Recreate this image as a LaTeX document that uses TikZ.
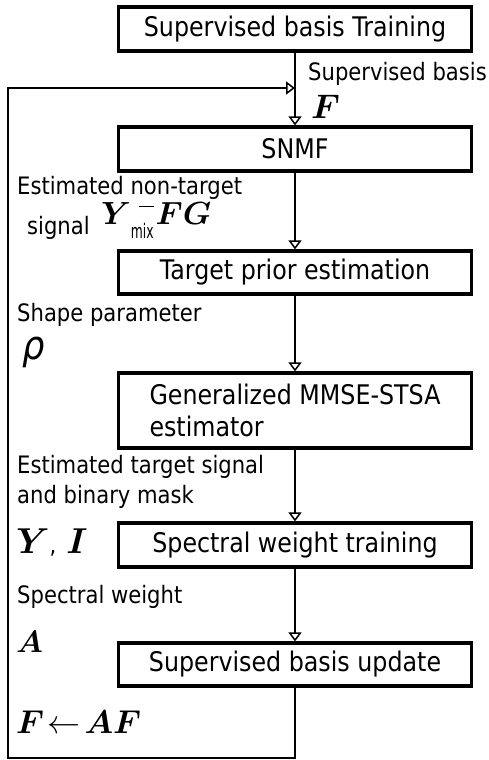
\RequirePackage{fix-cm}
\documentclass[tikz,border=0pt]{standalone}
\usepackage{amsmath,bm}
\usepackage{fontspec}
\setmainfont{DejaVu Sans}[FakeStretch=0.88]
\usetikzlibrary{arrows.meta, calc}
\tikzset{
  stepBox/.style={draw, line width=3.2pt, minimum width=353pt, minimum height=44pt,
    inner sep=0pt, font=\fontsize{27}{32}\selectfont},
  flowArrow/.style={line width=2pt,
    -{Triangle[open, length=9pt, width=13pt, line width=1.5pt]}},
  % labels beside the flow
  noteText/.style={anchor=west, inner sep=0pt, font=\fontsize{24}{28}\selectfont},
  mathNote/.style={anchor=base west, inner sep=0pt, font=\fontsize{#1}{#1}\selectfont},
  mathNote/.default=32
}

\begin{document}
\begin{tikzpicture}[x=1pt, y=-1pt]
  \useasboundingbox[fill=white] (0,0) rectangle (488,760);

  % --- PROCESSING STEPS ---
  \node[stepBox] (train) at (295,29) {Supervised basis Training};
  \node[stepBox] (snmf) at (295,149) {SNMF};
  \node[stepBox, minimum height=43pt] (prior) at (295,272.5) {Target prior estimation};
  \node[stepBox, minimum height=75pt, align=left] (mmse) at (295,410.5)
    {Generalized MMSE-STSA\\estimator};
  \node[stepBox] (weight) at (295,545) {Spectral weight training};
  \node[stepBox, minimum height=43pt] (update) at (295,664.5) {Supervised basis update};

  % --- FLOW ---
  \draw[flowArrow] (train) -- (snmf);
  \draw[flowArrow] (snmf) -- (prior);
  \draw[flowArrow] (prior) -- (mmse);
  \draw[flowArrow] (mmse) -- (weight);
  \draw[flowArrow] (weight) -- (update);

  % Feedback loop
  \coordinate (join) at (295,88);
  \coordinate (loopBL) at (8,758);
  \draw[flowArrow] (update.south) |- (loopBL) |- (join);

  % --- LABELS ---
  \node[noteText] (basisLbl) at (308,74) {Supervised basis};
  \node[mathNote=34] (basisF) at (311,118) {$\bm{F}$};

  \node[noteText] (nonTgtLbl) at (17,188) {Estimated non-target};
  \node[noteText] (sigLbl) at (27,228) {signal};
  \node[mathNote] (nonTgtM) at (101,224)
    {$\bm{Y}$\raisebox{-14pt}{\scalebox{0.7}[1]{\fontsize{20}{20}\selectfont mix}}\llap{\raisebox{17pt}{\rule{15pt}{1.4pt}}}\hspace{2pt}$\bm{F}\bm{G}$};

  \node[noteText] (shapeLbl) at (17,315) {Shape parameter};
  \node[anchor=base west, inner sep=0pt, font=\fontsize{40}{40}\selectfont\itshape] (rho) at (22,359) {ρ};

  \node[noteText] (tgtLbl) at (17,467) {Estimated target signal};
  \node[noteText] (maskLbl) at (17,497) {and binary mask};
  \node[mathNote=36] (maskM) at (16,553) {$\bm{Y}${\fontsize{24}{24}\selectfont,} $\bm{I}$};

  \node[noteText] (swLbl) at (17,597) {Spectral weight};
  \node[mathNote=31] (swA) at (16,652) {$\bm{A}$};

  \node[mathNote=33] (updM) at (16,733) {$\bm{F}\!\leftarrow\!\bm{A}\bm{F}$};
\end{tikzpicture}
\end{document}
